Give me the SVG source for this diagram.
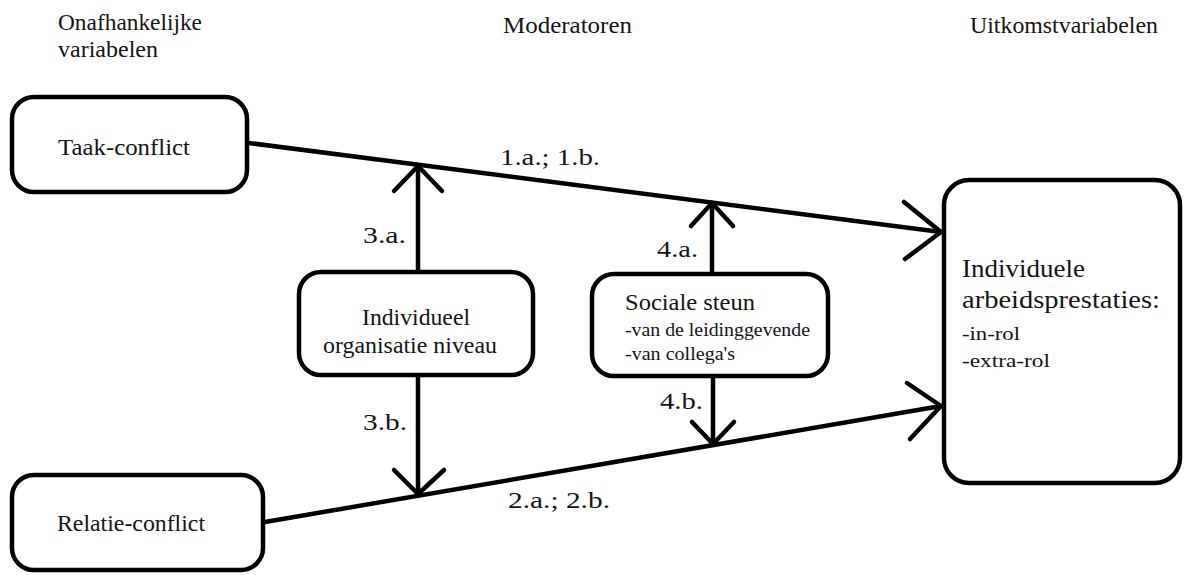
<svg xmlns="http://www.w3.org/2000/svg" width="1186" height="575" viewBox="0 0 1186 575" font-family="Liberation Serif, serif">
<style>
text{fill:#151515}
.h{font-size:23px}
.m{font-size:24px}
.b{font-size:26px}
.s{font-size:19px}
.box{fill:#fff;stroke:#000;stroke-width:4.5}
.ln{fill:none;stroke:#000;stroke-width:4.5;stroke-linecap:round;stroke-linejoin:round}
</style>
<rect width="1186" height="575" fill="#fff"/>
<g id="headers">
<text class="h" x="58" y="30" textLength="144" lengthAdjust="spacingAndGlyphs">Onafhankelijke</text>
<text class="h" x="58" y="57" textLength="100" lengthAdjust="spacingAndGlyphs">variabelen</text>
<text class="h" x="503" y="33" textLength="129" lengthAdjust="spacingAndGlyphs">Moderatoren</text>
<text class="h" x="970" y="33" textLength="188" lengthAdjust="spacingAndGlyphs">Uitkomstvariabelen</text>
</g>
<g id="connectors">
<line class="ln" x1="249" y1="143" x2="941" y2="232"/>
<polyline class="ln" points="904,202 941,232 905,259"/>
<line class="ln" x1="265" y1="522" x2="941" y2="406"/>
<polyline class="ln" points="907,383 941,406 910,439"/>
<line class="ln" x1="418" y1="272" x2="418" y2="166"/>
<polyline class="ln" points="394,191 418,166 442,191"/>
<line class="ln" x1="418" y1="377" x2="418" y2="494"/>
<polyline class="ln" points="394,470 418,494 444,470"/>
<line class="ln" x1="712" y1="274" x2="712" y2="203"/>
<polyline class="ln" points="691,226 712,203 733,226"/>
<line class="ln" x1="713" y1="378" x2="713" y2="444"/>
<polyline class="ln" points="692,422 713,444 734,422"/>
<text class="m" x="500" y="165" textLength="100" lengthAdjust="spacingAndGlyphs">1.a.; 1.b.</text>
<text class="m" x="508" y="508" textLength="102" lengthAdjust="spacingAndGlyphs">2.a.; 2.b.</text>
<text class="m" x="363" y="243" textLength="43" lengthAdjust="spacingAndGlyphs">3.a.</text>
<text class="m" x="363" y="430" textLength="44" lengthAdjust="spacingAndGlyphs">3.b.</text>
<text class="m" x="657" y="257" textLength="41" lengthAdjust="spacingAndGlyphs">4.a.</text>
<text class="m" x="660" y="409" textLength="43" lengthAdjust="spacingAndGlyphs">4.b.</text>
</g>
<g id="taak-conflict">
<rect class="box" x="12" y="97" width="235" height="95" rx="22"/>
<text class="m" x="58" y="155" textLength="132" lengthAdjust="spacingAndGlyphs">Taak-conflict</text>
</g>
<g id="relatie-conflict">
<rect class="box" x="12" y="475" width="251" height="95" rx="22"/>
<text class="m" x="57" y="531" textLength="148" lengthAdjust="spacingAndGlyphs">Relatie-conflict</text>
</g>
<g id="individueel">
<rect class="box" x="299" y="272" width="234" height="103" rx="22"/>
<text class="m" x="362" y="325" textLength="108" lengthAdjust="spacingAndGlyphs">Individueel</text>
<text class="m" x="323" y="353" textLength="174" lengthAdjust="spacingAndGlyphs">organisatie niveau</text>
</g>
<g id="sociale-steun">
<rect class="box" x="592" y="274" width="236" height="102" rx="22"/>
<text class="m" x="625" y="310" textLength="130" lengthAdjust="spacingAndGlyphs">Sociale steun</text>
<text class="s" x="625" y="336" textLength="185" lengthAdjust="spacingAndGlyphs">-van de leidinggevende</text>
<text class="s" x="625" y="360" textLength="110" lengthAdjust="spacingAndGlyphs">-van collega's</text>
</g>
<g id="uitkomst">
<rect class="box" x="944" y="180" width="236" height="303" rx="25"/>
<text class="b" x="962" y="277" textLength="123" lengthAdjust="spacingAndGlyphs">Individuele</text>
<text class="b" x="962" y="308" textLength="198" lengthAdjust="spacingAndGlyphs">arbeidsprestaties:</text>
<text class="s" x="962" y="340" textLength="58" lengthAdjust="spacingAndGlyphs">-in-rol</text>
<text class="s" x="962" y="367" textLength="88" lengthAdjust="spacingAndGlyphs">-extra-rol</text>
</g>
</svg>
